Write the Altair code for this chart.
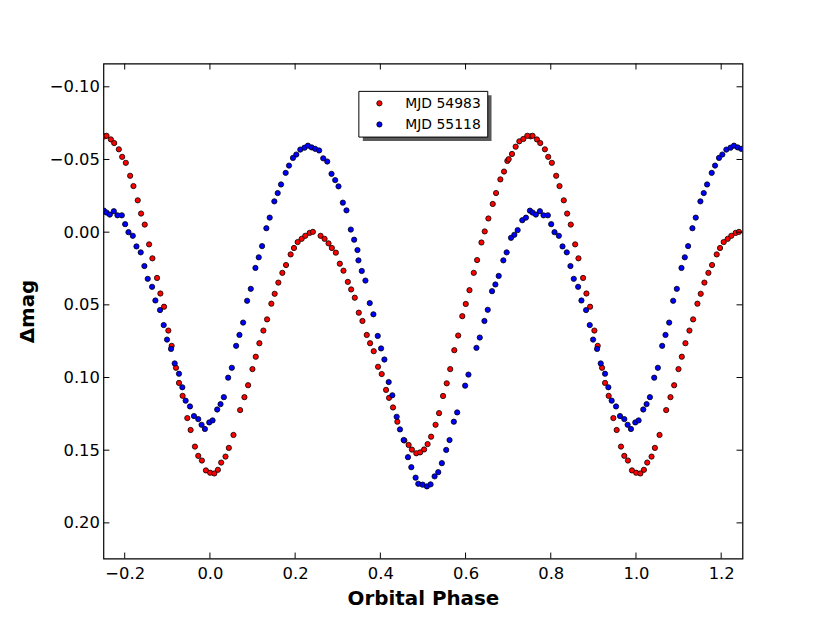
import altair as alt
import pandas as pd

series_names = ["MJD 54983", "MJD 55118"]
series_colors = ["#ff0000", "#0000ff"]

# one orbital cycle (phase -0.25 .. 0.75); the plot repeats it one cycle later
red_phase = [
    -0.2474, -0.2427, -0.2325, -0.2247, -0.2138, -0.2060, -0.1974, -0.1873, -0.1795, -0.1694,
    -0.1616, -0.1530, -0.1428, -0.1350, -0.1241, -0.1163, -0.1077, -0.0976, -0.0898, -0.0796,
    -0.0726, -0.0641, -0.0531, -0.0453, -0.0352, -0.0274, -0.0188, -0.0094, 0.0005, 0.0103,
    0.0187, 0.0264, 0.0366, 0.0444, 0.0553, 0.0709, 0.0810, 0.0896, 0.0998, 0.1076,
    0.1161, 0.1255, 0.1341, 0.1442, 0.1520, 0.1606, 0.1700, 0.1786, 0.1895, 0.1973,
    0.2059, 0.2153, 0.2238, 0.2340, 0.2417, 0.2597, 0.2691, 0.2784, 0.2862, 0.2956,
    0.3049, 0.3135, 0.3237, 0.3315, 0.3400, 0.3494, 0.3580, 0.3681, 0.3759, 0.3845,
    0.3946, 0.4032, 0.4134, 0.4204, 0.4297, 0.4399, 0.4564, 0.4664, 0.4741, 0.4844,
    0.4933, 0.5027, 0.5109, 0.5191, 0.5296, 0.5378, 0.5472, 0.5558, 0.5640, 0.5736,
    0.5827, 0.5923, 0.6005, 0.6092, 0.6193, 0.6271, 0.6373, 0.6450, 0.6536, 0.6638,
    0.6716, 0.6817, 0.6903, 0.6981, 0.7012, 0.7090, 0.7176, 0.7262, 0.7356, 0.7449,
]
red_mag = [
    -0.0659, -0.0663, -0.0638, -0.0613, -0.0570, -0.0518, -0.0477, -0.0388, -0.0317, -0.0219,
    -0.0128, -0.0052, 0.0084, 0.0180, 0.0315, 0.0422, 0.0513, 0.0677, 0.0782, 0.0933,
    0.1037, 0.1126, 0.1279, 0.1361, 0.1475, 0.1539, 0.1571, 0.1639, 0.1655, 0.1660,
    0.1635, 0.1585, 0.1544, 0.1484, 0.1395, 0.1224, 0.1135, 0.1053, 0.0942, 0.0857,
    0.0764, 0.0677, 0.0600, 0.0492, 0.0424, 0.0347, 0.0280, 0.0226, 0.0153, 0.0109,
    0.0068, 0.0046, 0.0025, 0.0005, -0.0002, 0.0025, 0.0046, 0.0077, 0.0109, 0.0141,
    0.0217, 0.0265, 0.0342, 0.0394, 0.0451, 0.0554, 0.0611, 0.0707, 0.0764, 0.0819,
    0.0926, 0.0976, 0.1085, 0.1140, 0.1206, 0.1304, 0.1433, 0.1464, 0.1496, 0.1521,
    0.1515, 0.1495, 0.1458, 0.1407, 0.1325, 0.1245, 0.1127, 0.1040, 0.0942, 0.0812,
    0.0711, 0.0578, 0.0494, 0.0399, 0.0280, 0.0192, 0.0071, -0.0005, -0.0094, -0.0194,
    -0.0269, -0.0363, -0.0417, -0.0490, -0.0502, -0.0538, -0.0588, -0.0625, -0.0641, -0.0663,
]
blue_phase = [
    -0.2489, -0.2427, -0.2349, -0.2255, -0.2170, -0.2068, -0.1990, -0.1912, -0.1810, -0.1724,
    -0.1624, -0.1538, -0.1460, -0.1358, -0.1280, -0.1171, -0.1085, -0.1007, -0.0913, -0.0827,
    -0.0726, -0.0648, -0.0570, -0.0468, -0.0375, -0.0274, -0.0196, -0.0118, -0.0016, 0.0062,
    0.0171, 0.0249, 0.0327, 0.0428, 0.0514, 0.0615, 0.0693, 0.0779, 0.0873, 0.0959,
    0.1068, 0.1146, 0.1224, 0.1325, 0.1403, 0.1512, 0.1591, 0.1669, 0.1778, 0.1856,
    0.1949, 0.2027, 0.2121, 0.2219, 0.2300, 0.2389, 0.2471, 0.2563, 0.2659, 0.2753,
    0.2854, 0.2940, 0.3018, 0.3120, 0.3205, 0.3307, 0.3385, 0.3463, 0.3486, 0.3564,
    0.3650, 0.3751, 0.3837, 0.3939, 0.4017, 0.4095, 0.4196, 0.4282, 0.4383, 0.4461,
    0.4547, 0.4648, 0.4727, 0.4828, 0.4890, 0.4992, 0.5093, 0.5179, 0.5273, 0.5359,
    0.5444, 0.5546, 0.5624, 0.5725, 0.5803, 0.5990, 0.6068, 0.6256, 0.6334, 0.6443,
    0.6521, 0.6622, 0.6700, 0.6778, 0.6887, 0.6965, 0.7067, 0.7145, 0.7223, 0.7332,
    0.7418,
]
blue_mag = [
    -0.0148, -0.0135, -0.0121, -0.0144, -0.0116, -0.0116, -0.0055, 0.0000, 0.0025, 0.0098,
    0.0139, 0.0233, 0.0321, 0.0376, 0.0470, 0.0536, 0.0639, 0.0739, 0.0803, 0.0903,
    0.0974, 0.1067, 0.1159, 0.1199, 0.1265, 0.1286, 0.1325, 0.1354, 0.1309, 0.1295,
    0.1220, 0.1183, 0.1135, 0.1001, 0.0933, 0.0782, 0.0707, 0.0622, 0.0472, 0.0390,
    0.0246, 0.0173, 0.0096, -0.0027, -0.0100, -0.0212, -0.0269, -0.0328, -0.0408, -0.0458,
    -0.0511, -0.0534, -0.0568, -0.0581, -0.0595, -0.0583, -0.0573, -0.0562, -0.0508, -0.0486,
    -0.0401, -0.0358, -0.0315, -0.0203, -0.0150, -0.0018, 0.0052, 0.0123, 0.0194, 0.0267,
    0.0333, 0.0488, 0.0565, 0.0714, 0.0800, 0.0876, 0.1031, 0.1122, 0.1270, 0.1357,
    0.1430, 0.1548, 0.1617, 0.1689, 0.1731, 0.1737, 0.1749, 0.1735, 0.1680, 0.1651,
    0.1589, 0.1498, 0.1430, 0.1304, 0.1240, 0.1056, 0.0980, 0.0796, 0.0725, 0.0611,
    0.0534, 0.0406, 0.0360, 0.0301, 0.0194, 0.0139, 0.0039, 0.0018, -0.0014, -0.0082,
    -0.0100,
]

x_ticks = [-0.2, 0.0, 0.2, 0.4, 0.6, 0.8, 1.0, 1.2]
y_ticks = [-0.10, -0.05, 0.00, 0.05, 0.10, 0.15, 0.20]

X_MIN, X_MAX = -0.25, 1.25
rows = []
for name, ph, mg in [(series_names[0], red_phase, red_mag),
                     (series_names[1], blue_phase, blue_mag)]:
    for p, m in zip(ph, mg):
        rows.append({"phase": p, "mag": m, "series": name})
        if p + 1.0 <= X_MAX:
            rows.append({"phase": p + 1.0, "mag": m, "series": name})
df = pd.DataFrame(rows)

W, H = 643, 498
FONT = "DejaVu Sans"
TL = 6  # inward tick length
DOT = 28
EDGE = 0.8

xscale = alt.Scale(domain=[X_MIN, X_MAX], nice=False, zero=False)
yscale = alt.Scale(domain=[-0.116, 0.2245], reverse=True, nice=False, zero=False)

xaxis = alt.Axis(values=x_ticks, format=".1f", title="Orbital Phase",
                 grid=False, ticks=False, tickSize=0, domain=False,
                 labelFont=FONT, labelFontSize=16.5, labelColor="black",
                 labelPadding=7, labelOverlap=False, labelFlush=False,
                 titleFont=FONT, titleFontSize=20, titleFontWeight="bold",
                 titleColor="black", titleY=46, titleBaseline="alphabetic")
yaxis = alt.Axis(values=y_ticks, format=".2f", title="Δmag",
                 grid=False, ticks=False, tickSize=0, domain=False,
                 labelFont=FONT, labelFontSize=16.5, labelColor="black",
                 labelPadding=4, labelOverlap=False, labelFlush=False,
                 titleFont=FONT, titleFontSize=20, titleFontWeight="bold",
                 titleColor="black", titleX=-70.5, titleY=H / 2,
                 titleAngle=270, titleAlign="center", titleBaseline="alphabetic")

points = alt.Chart(df).mark_circle(
    size=DOT, stroke="black", strokeWidth=EDGE, opacity=1, clip=True
).encode(
    x=alt.X("phase:Q", scale=xscale, axis=xaxis),
    y=alt.Y("mag:Q", scale=yscale, axis=yaxis),
    color=alt.Color("series:N", scale=alt.Scale(domain=series_names, range=series_colors),
                    legend=None),
)

xt = pd.DataFrame({"phase": x_ticks})
yt = pd.DataFrame({"mag": y_ticks})
rule_style = dict(color="black", strokeWidth=1)
tick_bottom = alt.Chart(xt).mark_rule(**rule_style).encode(
    x=alt.X("phase:Q", scale=xscale, axis=xaxis), y=alt.value(H), y2=alt.value(H - TL))
tick_top = alt.Chart(xt).mark_rule(**rule_style).encode(
    x=alt.X("phase:Q", scale=xscale, axis=xaxis), y=alt.value(0), y2=alt.value(TL))
tick_left = alt.Chart(yt).mark_rule(**rule_style).encode(
    y=alt.Y("mag:Q", scale=yscale, axis=yaxis), x=alt.value(0), x2=alt.value(TL))
tick_right = alt.Chart(yt).mark_rule(**rule_style).encode(
    y=alt.Y("mag:Q", scale=yscale, axis=yaxis), x=alt.value(W - TL), x2=alt.value(W))

# legend box with shadow
one = pd.DataFrame({"a": [0]})
shadow = alt.Chart(one).mark_rect(color="#5a5a5a").encode(
    x=alt.value(261), x2=alt.value(390.5), y=alt.value(32), y2=alt.value(78))
box = alt.Chart(one).mark_rect(fill="white", stroke="black", strokeWidth=1).encode(
    x=alt.value(257), x2=alt.value(386.7), y=alt.value(28), y2=alt.value(74))

legend_layers = []
for i, name in enumerate(series_names):
    d = pd.DataFrame({"series": [name]})
    legend_layers.append(
        alt.Chart(d).mark_circle(size=DOT, stroke="black", strokeWidth=EDGE, opacity=1,
                                 color=series_colors[i]).encode(
            x=alt.value(277.7), y=alt.value(40 + 21.3 * i)))
    legend_layers.append(
        alt.Chart(d).mark_text(align="left", baseline="middle", font=FONT, fontSize=14,
                               color="black").encode(
            x=alt.value(303.7), y=alt.value(41 + 21.3 * i), text="series:N"))

chart = alt.layer(
    points, tick_bottom, tick_top, tick_left, tick_right, shadow, box, *legend_layers
).properties(
    width=W, height=H,
    padding={"left": 96, "top": 54, "right": 80, "bottom": 60},
    autosize=alt.AutoSizeParams(type="none"),
    background="white",
).configure_view(stroke="black", strokeWidth=1.2)

chart.save("out.html", embed_options={"renderer": "svg", "actions": False})
